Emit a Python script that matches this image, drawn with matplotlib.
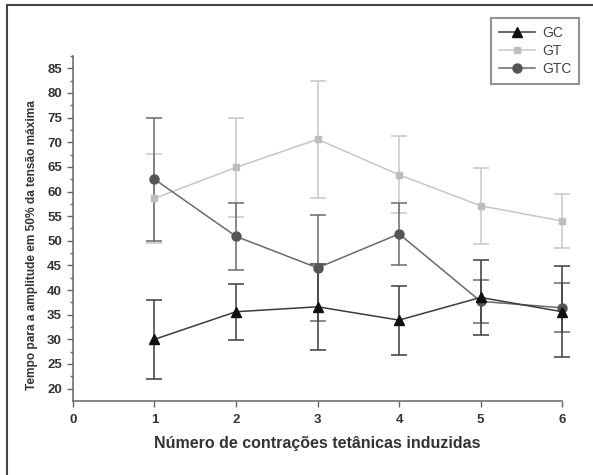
import matplotlib
matplotlib.use("Agg")
matplotlib.rcParams['font.family'] = ['Liberation Sans', 'DejaVu Sans']
import matplotlib.pyplot as plt
from matplotlib.lines import Line2D

# number of induced tetanic contractions
contractions = [1, 2, 3, 4, 5, 6]

gc_mean = [30.0, 35.6, 36.6, 33.9, 38.5, 35.6]
gc_err = [8.0, 5.7, 8.7, 7.0, 7.6, 9.2]

gt_mean = [58.6, 64.9, 70.6, 63.4, 57.1, 54.0]
gt_err = [9.1, 10.0, 11.9, 7.8, 7.7, 5.5]

gtc_mean = [62.5, 50.9, 44.5, 51.4, 37.7, 36.4]
gtc_err = [12.5, 6.8, 10.8, 6.3, 4.4, 5.0]

labels = ["GC", "GT", "GTC"]


def draw():
    fig = plt.figure(figsize=(5.93, 4.75), dpi=100)
    ax = fig.add_axes([0.123, 0.156, 0.825, 0.726])

    series = [
        (gt_mean, gt_err, 's', 5, '#bdbdbd', '#c6c6c6'),
        (gtc_mean, gtc_err, 'o', 6.5, '#555555', '#6a6a6a'),
        (gc_mean, gc_err, '^', 7, '#111111', '#3c3c3c'),
    ]
    for mean_v, err_v, mk, ms, mc, lc in series:
        ax.errorbar(contractions, mean_v, yerr=err_v, fmt='-', color=lc, ecolor=lc,
                    elinewidth=1.1, capsize=6, capthick=1.1, lw=1.1,
                    marker=mk, markersize=ms, markerfacecolor=mc, markeredgecolor=mc,
                    clip_on=False)

    ax.set_xlim(0, 6)
    ax.set_ylim(17.5, 87.5)
    ax.set_xticks(range(0, 7))
    ax.set_yticks(range(20, 90, 5))
    ax.set_yticks([v + 2.5 for v in range(20, 90, 5)], minor=True)
    for sp in ['top', 'right']:
        ax.spines[sp].set_visible(False)
    for sp in ['left', 'bottom']:
        ax.spines[sp].set_color('#666666')
        ax.spines[sp].set_linewidth(1.1)
    ax.tick_params(axis='both', which='major', length=4.5, width=1, color='#666666',
                   labelsize=9.5, labelcolor='#333333')
    ax.tick_params(axis='x', which='major', pad=5)
    ax.tick_params(axis='y', which='minor', length=2.5, width=1, color='#666666')
    for t in ax.get_xticklabels() + ax.get_yticklabels():
        t.set_fontweight('bold')

    ax.set_xlabel("Número de contrações tetânicas induzidas", fontsize=11.5,
                  fontweight='bold', color='#333333', labelpad=7)
    ax.set_ylabel("Tempo para a amplitude em 50% da tensão máxima", fontsize=8.6,
                  fontweight='bold', color='#333333')
    ax.yaxis.set_label_coords(-0.072, 0.452)

    handles = [
        Line2D([], [], color='#3c3c3c', marker='^', markersize=7, markerfacecolor='#111111',
               markeredgecolor='#111111', lw=1.1),
        Line2D([], [], color='#c6c6c6', marker='s', markersize=5, markerfacecolor='#bdbdbd',
               markeredgecolor='#bdbdbd', lw=1.1),
        Line2D([], [], color='#6a6a6a', marker='o', markersize=6.5, markerfacecolor='#555555',
               markeredgecolor='#555555', lw=1.1),
    ]
    leg = fig.legend(handles, labels, loc='upper right', bbox_to_anchor=(579 / 593, 1 - 18 / 475),
                     fontsize=10, frameon=True, fancybox=False, handlelength=2.6,
                     labelspacing=0.3, borderpad=0.55, handletextpad=0.5, borderaxespad=0)
    leg.get_frame().set_edgecolor('#777777')
    leg.get_frame().set_linewidth(1.5)
    for t in leg.get_texts():
        t.set_color('#444444')

    # outer frame (top and left edges of the figure box)
    fig.add_artist(Line2D([7 / 593, 1.0], [1 - 5 / 475, 1 - 5 / 475], color='#444444', lw=1.5,
                          transform=fig.transFigure))
    fig.add_artist(Line2D([7 / 593, 7 / 593], [0.0, 1 - 5 / 475], color='#444444', lw=1.5,
                          transform=fig.transFigure))

    fig.savefig("out.png", dpi=100)


if __name__ == "__main__":
    draw()
